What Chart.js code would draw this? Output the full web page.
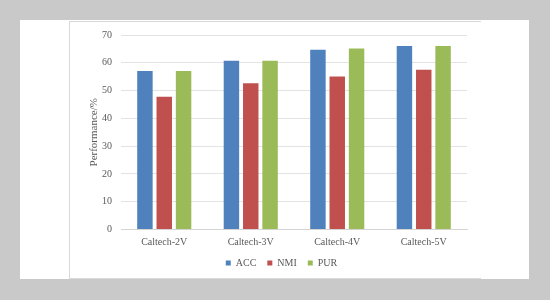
<!DOCTYPE html>
<html>
<head>
<meta charset="utf-8">
<script src="https://cdn.jsdelivr.net/npm/chart.js@4/dist/chart.umd.min.js"></script>
<style>
  html, body { margin: 0; padding: 0; background: #c9c9c9; }
  body { width: 550px; height: 300px; position: relative; overflow: hidden; }
  #panel { position: absolute; left: 20px; top: 20px; width: 509px; height: 259px; background: #ffffff; }
  #frame { position: absolute; left: 69px; top: 21px; width: 411px; height: 256px;
           border-left: 1px solid #d9d9d9; border-top: 1px solid #d9d9d9; border-bottom: 1px solid #d9d9d9; }
  #wrap { position: absolute; left: 0; top: 0; width: 550px; height: 300px; }
</style>
</head>
<body>
<div id="panel"></div>
<div id="frame"></div>
<div id="wrap"><canvas id="c" width="550" height="300"></canvas></div>
<script>
const categories = ["Caltech-2V", "Caltech-3V", "Caltech-4V", "Caltech-5V"];
const accValues = [57.0, 60.7, 64.7, 66.0];
const nmiValues = [47.8, 52.6, 55.1, 57.5];
const purValues = [57.0, 60.7, 65.1, 66.0];
const seriesNames = ["ACC", "NMI", "PUR"];
const yTicks = [0, 10, 20, 30, 40, 50, 60, 70];
const yTitle = "Performance/%";

const fontFamily = "'Liberation Serif', 'Times New Roman', serif";
const textColor = "#595959";

new Chart(document.getElementById("c"), {
  type: "bar",
  data: {
    labels: categories,
    datasets: [
      { label: seriesNames[0], data: accValues, backgroundColor: "#4F81BD" },
      { label: seriesNames[1], data: nmiValues, backgroundColor: "#C0504D" },
      { label: seriesNames[2], data: purValues, backgroundColor: "#9BBB59" }
    ]
  },
  options: {
    responsive: false,
    animation: false,
    devicePixelRatio: 1,
    layout: { padding: { left: 96, right: 83, top: 35, bottom: 22 } },
    datasets: { bar: { categoryPercentage: 0.67, barPercentage: 0.8 } },
    plugins: {
      tooltip: { enabled: false },
      legend: {
        position: "bottom",
        labels: {
          boxWidth: 5, boxHeight: 5, padding: 11,
          color: textColor,
          font: { family: fontFamily, size: 10 }
        }
      }
    },
    scales: {
      x: {
        grid: { display: false, drawTicks: false },
        border: { display: true, color: "#d4d4d4" },
        ticks: { color: textColor, padding: 7, font: { family: fontFamily, size: 10 } },
        afterFit: (s) => { s.height = 17.5; }
      },
      y: {
        min: yTicks[0], max: yTicks[yTicks.length - 1],
        afterBuildTicks: (s) => { s.ticks = yTicks.map(v => ({ value: v })); },
        grid: { color: "#e3e3e3", drawTicks: false },
        border: { display: false },
        ticks: { color: textColor, padding: 9, font: { family: fontFamily, size: 10 } },
        title: {
          display: true, text: yTitle, color: textColor,
          font: { family: fontFamily, size: 11 },
          padding: { top: -8.6, bottom: 0 }
        },
        afterFit: (s) => { s.width = 25; }
      }
    }
  }
});
</script>
</body>
</html>
